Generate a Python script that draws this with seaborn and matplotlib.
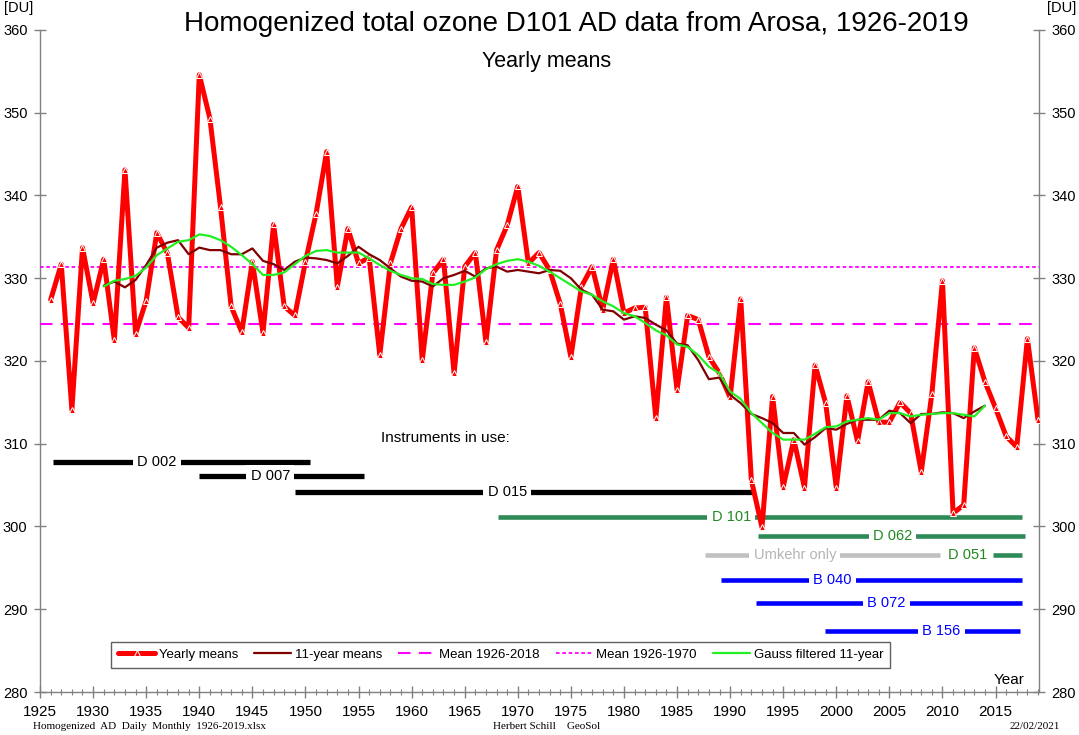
import numpy as np
import pandas as pd
import matplotlib
matplotlib.use("Agg")
import matplotlib.pyplot as plt
from matplotlib.lines import Line2D
from matplotlib.ticker import MultipleLocator
import seaborn as sns

# yearly means 1926-2019 [DU]
years = list(range(1926, 2020))
yearly = [327.4, 331.7, 314.1, 333.7, 327.0, 332.3, 322.5, 343.1, 323.3, 327.3,
          335.5, 333.0, 325.3, 324.0, 354.6, 349.3, 338.6, 326.6, 323.5, 332.0,
          323.4, 336.5, 326.6, 325.5, 332.0, 337.8, 345.3, 329.0, 336.0, 331.8,
          332.5, 320.7, 331.8, 336.0, 338.6, 320.1, 330.6, 332.3, 318.5, 331.4,
          333.1, 322.3, 333.4, 336.4, 341.1, 331.8, 333.1, 331.0, 326.9, 320.5,
          329.0, 331.4, 326.2, 332.3, 325.8, 326.4, 326.5, 313.1, 327.7, 316.5,
          325.5, 325.0, 320.5, 318.5, 315.6, 327.5, 305.6, 299.9, 315.7, 304.8,
          310.5, 304.7, 319.5, 314.9, 304.7, 315.8, 310.3, 317.5, 312.6, 312.6,
          315.0, 313.7, 306.6, 316.0, 329.7, 301.6, 302.6, 321.6, 317.5, 314.3,
          310.9, 309.6, 322.7, 312.9]

# smoothed curves 1931-2014
years_smooth = list(range(1931, 2015))
mean11 = [329.1, 329.6, 328.9, 329.8, 331.6, 333.7, 334.3, 334.6, 332.9, 333.7,
          333.4, 333.4, 332.9, 332.9, 333.6, 332.1, 331.7, 331.0, 332.0, 332.5,
          332.4, 332.2, 331.8, 332.7, 333.8, 332.9, 332.2,
          331.2, 330.2, 329.7, 329.6, 329.0, 330.0, 330.4, 330.9, 330.2, 331.2,
          331.4, 330.8, 331.0, 330.8, 330.6, 331.0, 330.9, 330.0, 328.6, 328.0,
          326.2, 326.0, 325.0, 325.4, 325.2, 324.4, 323.7, 322.1, 321.9, 320.1,
          317.8, 318.0, 315.9, 314.9, 313.6, 313.1, 312.5, 311.3, 311.3, 309.9,
          310.8, 311.9, 311.7, 312.4, 312.9, 312.9, 312.9, 314.0, 313.7, 312.5,
          313.6, 313.6, 313.8, 313.7, 313.1, 313.9, 314.6]
gauss11 = [329.0, 329.7, 329.9, 330.3, 331.3, 332.8, 333.6, 334.4, 334.6, 335.3,
           335.1, 334.6, 333.8, 332.8, 331.7, 330.4, 330.4, 330.7, 331.7, 332.7,
           333.3, 333.4, 333.1, 333.1, 333.1, 332.4, 331.6,
           330.9, 330.4, 330.0, 329.9, 329.3, 329.2, 329.2, 329.6, 330.1, 331.1,
           331.7, 332.1, 332.3, 332.0, 331.5, 330.8, 330.0, 329.2, 328.4, 328.0,
           327.2, 326.6, 325.8, 325.4, 324.6, 323.7, 323.1, 322.0, 321.7, 320.7,
           319.3, 318.5, 316.3, 315.4, 313.7, 312.5, 311.3, 310.5, 310.5, 310.5,
           311.2, 312.0, 312.1, 312.7, 312.9, 313.1, 312.9, 313.7, 313.7, 313.3,
           313.5, 313.6, 313.7, 313.7, 313.5, 313.3, 314.6]

mean_all = 324.5   # 1926-2018
mean_early = 331.3  # 1926-1970

# instruments in use
inst_names = ['D 002', 'D 007', 'D 015', 'D 101', 'D 062', 'Umkehr only',
              'D 051', 'B 040', 'B 072', 'B 156']
inst_kind = ['D', 'D', 'D', 'Dg', 'Dg', 'U', 'Dg', 'B', 'B', 'B']
inst_start = [1926.2, 1940.0, 1949.0, 1968.1, 1992.6, 1987.6, 2014.8, 1989.1, 1992.4, 1998.9]
inst_end = [1950.4, 1955.5, 1992.2, 2017.5, 2017.8, 2009.8, 2017.5, 2017.5, 2017.5, 2017.3]
inst_level = [307.8, 306.1, 304.2, 301.2, 298.8, 296.5, 296.5, 293.5, 290.8, 287.4]
inst_label_x = [1936.0, 1946.7, 1969.0, 1990.1, 2005.3, 1996.1, 2012.4, 1999.6, 2004.7, 2009.9]

bar_col = {'D': 'black', 'Dg': '#2e8b57', 'U': '#c0c0c0', 'B': '#0000ff'}
txt_col = {'D': 'black', 'Dg': '#1f8a1f', 'U': '#b4b4b4', 'B': '#0000ff'}

sns.set_theme(style="white")
plt.rcParams['font.family'] = ['Liberation Sans', 'DejaVu Sans']
plt.rcParams['text.color'] = 'black'

fig = plt.figure(figsize=(10.79, 7.35), dpi=100)
ax = fig.add_axes([0.0371, 0.0585, 0.9259, 0.9007])

df = pd.DataFrame({'year': years, 'ozone': yearly})
sm = pd.DataFrame({'year': years_smooth, 'mean11': mean11, 'gauss': gauss11})

# instrument bars
for name, kind, x0, x1, lev, lx in zip(inst_names, inst_kind, inst_start, inst_end,
                                       inst_level, inst_label_x):
    ax.hlines(lev, x0, x1, color=bar_col[kind], lw=3.8 if kind == 'D' else 3.3, zorder=1)
    ax.text(lx, lev, name, color=txt_col[kind], fontsize=10.5, ha='center', va='center',
            zorder=2, bbox=dict(facecolor='white', edgecolor='none', pad=3))
ax.text(1963.2, 310.7, 'Instruments in use:', fontsize=11, ha='center', va='center')

ax.axhline(mean_all, color='#ff00ff', lw=1.5, ls=(0, (6, 4)), zorder=3)
ax.axhline(mean_early, color='#ff00ff', lw=1.3, ls=(0, (2, 1.5)), zorder=3)

sns.lineplot(data=df, x='year', y='ozone', ax=ax, color='#ff0000', lw=3.6,
             marker='^', markersize=4.5, markerfacecolor='#ff0000',
             markeredgecolor='white', markeredgewidth=0.7, zorder=5)
sns.lineplot(data=sm, x='year', y='mean11', ax=ax, color='#800000', lw=1.6, zorder=6)
sns.lineplot(data=sm, x='year', y='gauss', ax=ax, color='#22ee22', lw=1.6, zorder=7)

ax.set_xlim(1925, 2019.1)
ax.set_ylim(280, 360)
ax.xaxis.set_major_locator(MultipleLocator(5))
ax.xaxis.set_minor_locator(MultipleLocator(1))
ax.yaxis.set_major_locator(MultipleLocator(10))
ax.set_xlabel('')
ax.set_ylabel('')
for s in ['left', 'right', 'bottom']:
    ax.spines[s].set_visible(True)
    ax.spines[s].set_color('#808080')
    ax.spines[s].set_linewidth(1.0)
ax.spines['top'].set_visible(False)
ax.tick_params(axis='x', which='major', direction='inout', length=8, width=1,
               color='#808080', labelcolor='black', labelsize=11, pad=5, bottom=True)
ax.tick_params(axis='x', which='minor', direction='inout', length=5, width=0.8,
               color='#808080', bottom=True)
ax.tick_params(axis='y', which='major', direction='inout', length=8, width=1,
               color='#808080', labelcolor='black', labelsize=10.5, left=True,
               right=True, labelleft=True, labelright=True, pad=5)
ax.grid(False)

handles = [
    Line2D([], [], color='#ff0000', lw=3.6, marker='^', markersize=4.5,
           markeredgecolor='white', markeredgewidth=0.7),
    Line2D([], [], color='#800000', lw=1.6),
    Line2D([], [], color='#ff00ff', lw=1.5, ls=(0, (6, 4))),
    Line2D([], [], color='#ff00ff', lw=1.3, ls=(0, (2, 1.5))),
    Line2D([], [], color='#22ee22', lw=1.6),
]
labels = ['Yearly means', '11-year means', 'Mean 1926-2018', 'Mean 1926-1970',
          'Gauss filtered 11-year']
leg = ax.legend(handles, labels, ncol=5, loc='lower center', bbox_to_anchor=(0.461, 0.027),
                fontsize=9.5, frameon=True, fancybox=False, framealpha=1,
                edgecolor='#606060', handlelength=2.8, handletextpad=0.3,
                columnspacing=1.2, borderpad=0.5)
leg.get_frame().set_linewidth(1.0)

ax.text(0.985, 0.007, 'Year', transform=ax.transAxes, fontsize=11, ha='right', va='bottom')

fig.text(0.534, 0.968, 'Homogenized total ozone D101 AD data from Arosa, 1926-2019',
         fontsize=20, ha='center', va='center')
fig.text(0.507, 0.917, 'Yearly means', fontsize=15.5, ha='center', va='center')
fig.text(0.004, 0.989, '[DU]', fontsize=10.5, ha='left', va='center')
fig.text(0.997, 0.989, '[DU]', fontsize=10.5, ha='right', va='center')

serif = ['Liberation Serif', 'DejaVu Serif']
fig.text(0.031, 0.011, 'Homogenized  AD  Daily  Monthly  1926-2019.xlsx', family=serif,
         fontsize=8, ha='left', va='center')
fig.text(0.457, 0.011, 'Herbert Schill    GeoSol', family=serif, fontsize=8,
         ha='left', va='center')
fig.text(0.982, 0.011, '22/02/2021', family=serif, fontsize=8, ha='right', va='center')

fig.savefig('out.png', dpi=100)
